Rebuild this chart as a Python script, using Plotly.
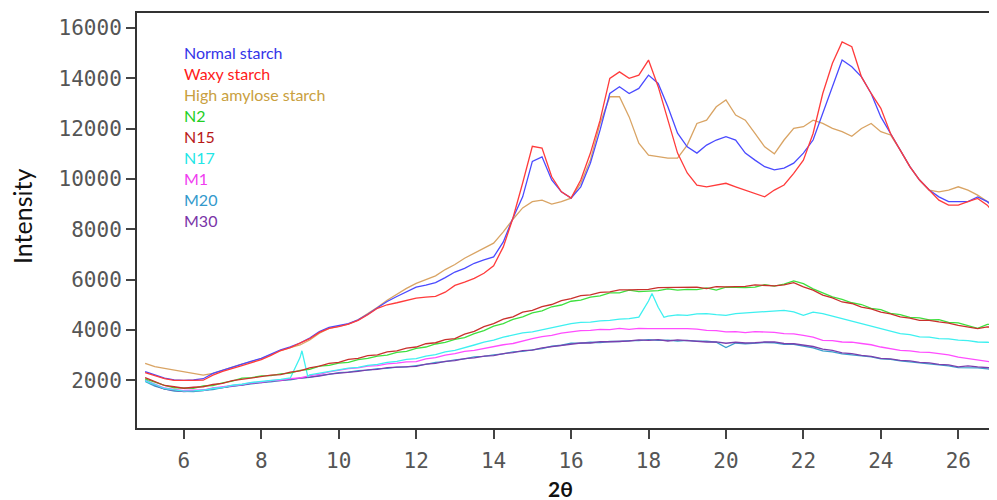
import plotly.graph_objects as go

two_theta = [5.00, 5.25, 5.50, 5.75, 6.00, 6.25, 6.50, 6.75, 7.00, 7.25, 7.50, 7.75,
             8.00, 8.25, 8.50, 8.75, 9.00, 9.25, 9.50, 9.75, 10.00, 10.25, 10.50, 10.75,
             11.00, 11.25, 11.50, 11.75, 12.00, 12.25, 12.50, 12.75, 13.00, 13.25, 13.50, 13.75,
             14.00, 14.25, 14.50, 14.75, 15.00, 15.25, 15.50, 15.75, 16.00, 16.25, 16.50, 16.75,
             17.00, 17.25, 17.50, 17.75, 18.00, 18.25, 18.50, 18.75, 19.00, 19.25, 19.50, 19.75,
             20.00, 20.25, 20.50, 20.75, 21.00, 21.25, 21.50, 21.75, 22.00, 22.25, 22.50, 22.75,
             23.00, 23.25, 23.50, 23.75, 24.00, 24.25, 24.50, 24.75, 25.00, 25.25, 25.50, 25.75,
             26.00, 26.25, 26.50, 26.75, 27.00]

normal_starch = [2340, 2200, 2080, 2010, 1990, 2010, 2060, 2270, 2400, 2530, 2640, 2760,
                 2870, 3040, 3210, 3330, 3480, 3680, 3930, 4100, 4160, 4250, 4400, 4620,
                 4880, 5130, 5330, 5500, 5700, 5780, 5880, 6080, 6300, 6450, 6650, 6780,
                 6900, 7500, 8450, 9290, 10700, 10880, 9960, 9490, 9240, 9690, 10630, 11950,
                 13400, 13670, 13400, 13600, 14130, 13800, 12870, 11820, 11280, 11030, 11350, 11550,
                 11680, 11550, 11030, 10750, 10490, 10360, 10430, 10630, 11030, 11550, 12610, 13670,
                 14730, 14460, 14060, 13400, 12470, 11810, 11150, 10490, 9960, 9560, 9290, 9100,
                 9100, 9100, 9290, 9100, 8760]

waxy_starch = [2300, 2180, 2060, 1990, 1980, 1990, 2000, 2200, 2350, 2480, 2580, 2700,
               2820, 2990, 3180, 3300, 3460, 3650, 3900, 4060, 4130, 4230, 4380, 4600,
               4860, 5000, 5080, 5180, 5260, 5300, 5330, 5500, 5770, 5900, 6050, 6250,
               6550, 7300, 8450, 9840, 11300, 11230, 10090, 9490, 9240, 9960, 11030, 12340,
               14000, 14260, 14000, 14130, 14730, 13670, 12340, 11030, 10240, 9760, 9690, 9760,
               9830, 9690, 9560, 9430, 9290, 9560, 9760, 10220, 10750, 11810, 13400, 14600,
               15450, 15260, 14060, 13400, 12810, 11810, 11150, 10490, 9960, 9560, 9160, 8960,
               8960, 9100, 9230, 8960, 8500]

high_amylose_starch = [2670, 2540, 2470, 2410, 2340, 2270, 2200, 2270, 2400, 2530, 2640, 2740,
                       2860, 3020, 3180, 3300, 3400, 3600, 3870, 4060, 4150, 4230, 4400, 4640,
                       4900, 5180, 5420, 5650, 5850, 6000, 6150, 6400, 6600, 6850, 7050, 7250,
                       7450, 7900, 8400, 8850, 9100, 9160, 9000, 9100, 9240, 9830, 10760, 12210,
                       13270, 13270, 12470, 11420, 10950, 10890, 10830, 10830, 11350, 12210, 12340, 12870,
                       13140, 12540, 12340, 11810, 11280, 11000, 11550, 12010, 12080, 12340, 12210, 12010,
                       11880, 11700, 12010, 12210, 11880, 11750, 11150, 10490, 9960, 9560, 9490, 9560,
                       9690, 9560, 9360, 9100, 8960]

n2 = [2050, 1910, 1790, 1700, 1700, 1680, 1770, 1790, 1890, 1960, 2080, 2100,
      2170, 2180, 2250, 2280, 2390, 2430, 2560, 2590, 2680, 2710, 2820, 2870,
      2960, 3000, 3110, 3150, 3270, 3320, 3440, 3500, 3620, 3690, 3850, 3970,
      4150, 4250, 4420, 4520, 4680, 4760, 4920, 4990, 5140, 5180, 5300, 5350,
      5470, 5470, 5580, 5520, 5540, 5560, 5630, 5580, 5610, 5600, 5670, 5580,
      5700, 5680, 5680, 5700, 5800, 5740, 5820, 5950, 5840, 5630, 5470, 5310,
      5210, 5080, 5010, 4860, 4810, 4660, 4610, 4500, 4480, 4400, 4410, 4300,
      4280, 4180, 4060, 4220, 4230]

n15 = [2100, 1960, 1790, 1740, 1680, 1720, 1740, 1830, 1870, 1980, 2030, 2110,
       2130, 2200, 2220, 2320, 2370, 2490, 2560, 2670, 2710, 2830, 2870, 2980,
       3010, 3130, 3170, 3280, 3320, 3450, 3490, 3610, 3650, 3830, 3940, 4130,
       4250, 4430, 4520, 4710, 4780, 4930, 5010, 5160, 5240, 5360, 5390, 5490,
       5510, 5590, 5590, 5610, 5610, 5680, 5690, 5710, 5710, 5700, 5640, 5720,
       5710, 5710, 5730, 5790, 5770, 5750, 5790, 5880, 5710, 5580, 5380, 5270,
       5110, 5050, 4910, 4840, 4710, 4640, 4520, 4470, 4380, 4380, 4320, 4270,
       4180, 4100, 4050, 4120, 4100]

n17 = [1980, 1810, 1670, 1620, 1570, 1580, 1600, 1670, 1710, 1800, 1840, 1910,
       1940, 2000, 2030, 2090, 2900, 2210, 2280, 2360, 2410, 2480, 2510, 2590,
       2630, 2710, 2750, 2830, 2860, 2960, 3020, 3130, 3190, 3310, 3400, 3510,
       3590, 3710, 3790, 3880, 3920, 4010, 4080, 4190, 4250, 4300, 4310, 4360,
       4380, 4430, 4450, 4510, 5150, 4900, 4550, 4600, 4580, 4640, 4650, 4610,
       4580, 4650, 4680, 4710, 4710, 4760, 4780, 4720, 4580, 4710, 4650, 4550,
       4450, 4370, 4250, 4160, 4050, 3970, 3850, 3810, 3720, 3710, 3650, 3640,
       3590, 3570, 3520, 3510, 3470]
# sharp single-point peaks of N17 between grid positions
n17_peak_theta = [9.05, 9.20, 18.09, 18.40]
n17_peak_values = [3170, 2150, 5450, 4500]

m1 = [2000, 1830, 1690, 1640, 1590, 1600, 1610, 1690, 1730, 1800, 1830, 1900,
      1920, 1980, 2000, 2060, 2090, 2180, 2230, 2330, 2390, 2460, 2490, 2560,
      2580, 2650, 2680, 2730, 2740, 2850, 2900, 3000, 3060, 3150, 3190, 3270,
      3320, 3410, 3460, 3570, 3650, 3730, 3780, 3870, 3920, 3970, 3980, 4020,
      4010, 4060, 4020, 4060, 4050, 4050, 4040, 4070, 4050, 4030, 3980, 3970,
      3920, 3930, 3890, 3930, 3920, 3900, 3850, 3840, 3780, 3710, 3580, 3570,
      3520, 3510, 3460, 3410, 3320, 3270, 3190, 3170, 3120, 3110, 3060, 3010,
      2920, 2870, 2790, 2750, 2690]

m20 = [1950, 1760, 1660, 1570, 1560, 1550, 1600, 1630, 1710, 1750, 1820, 1850,
       1910, 1930, 1990, 2010, 2080, 2110, 2190, 2230, 2300, 2320, 2380, 2400,
       2460, 2470, 2520, 2530, 2580, 2630, 2710, 2740, 2810, 2850, 2930, 2950,
       3010, 3050, 3130, 3150, 3210, 3260, 3350, 3390, 3470, 3470, 3510, 3500,
       3540, 3540, 3570, 3570, 3610, 3580, 3590, 3560, 3580, 3550, 3550, 3510,
       3300, 3480, 3450, 3480, 3500, 3490, 3430, 3430, 3350, 3290, 3170, 3130,
       3050, 3020, 2970, 2930, 2850, 2830, 2770, 2730, 2670, 2660, 2600, 2570,
       2500, 2500, 2490, 2450, 2400]

m30 = [2020, 1800, 1650, 1600, 1550, 1580, 1590, 1670, 1710, 1780, 1810, 1880,
       1910, 1970, 1980, 2040, 2070, 2120, 2160, 2240, 2270, 2330, 2350, 2410,
       2430, 2500, 2510, 2550, 2550, 2640, 2670, 2750, 2780, 2860, 2890, 2960,
       2980, 3060, 3100, 3180, 3200, 3290, 3330, 3400, 3440, 3480, 3480, 3530,
       3530, 3540, 3560, 3600, 3580, 3610, 3560, 3600, 3570, 3560, 3520, 3520,
       3470, 3510, 3480, 3490, 3520, 3520, 3460, 3450, 3390, 3340, 3240, 3190,
       3090, 3060, 2990, 2950, 2870, 2850, 2790, 2770, 2710, 2690, 2630, 2610,
       2530, 2570, 2530, 2510, 2470]

series_names = ["Normal starch", "Waxy starch", "High amylose starch", "N2", "N15",
                "N17", "M1", "M20", "M30"]
line_colors = ["#4a4aff", "#ff3b3b", "#d9a464", "#3ee03e", "#c9302c",
               "#3ef0f0", "#ff4dff", "#3b9fcc", "#7a3fae"]
label_colors = ["#3434e8", "#ff1a1a", "#c9a040", "#22d022", "#b81818",
                "#22e6e6", "#f03cf0", "#3399cc", "#7a34a8"]
y_ticks = [2000, 4000, 6000, 8000, 10000, 12000, 14000, 16000]
y_tick_text = ["2000", "4000", "6000", "8000", "10000", "12000", "14000", "16000"]
x_ticks = [6, 8, 10, 12, 14, 16, 18, 20, 22, 24, 26]
x_tick_text = ["6", "8", "10", "12", "14", "16", "18", "20", "22", "24", "26"]

# merge N17 sharp peaks into its own x/y arrays
n17_pairs = sorted(list(zip(two_theta, n17)) + list(zip(n17_peak_theta, n17_peak_values)))
n17_x = [p[0] for p in n17_pairs]
n17_y = [p[1] for p in n17_pairs]

data = {
    "Normal starch": (two_theta, normal_starch),
    "Waxy starch": (two_theta, waxy_starch),
    "High amylose starch": (two_theta, high_amylose_starch),
    "N2": (two_theta, n2),
    "N15": (two_theta, n15),
    "N17": (n17_x, n17_y),
    "M1": (two_theta, m1),
    "M20": (two_theta, m20),
    "M30": (two_theta, m30),
}

# the page body has an 8px margin; size the figure so the plot lands where the reference has it
OFF = 8
W, H = 997 - OFF, 500 - OFF
ml, mr, mt, mb = 137 - OFF, 0, 13 - OFF, 72
pw, ph = W - ml - mr, H - mt - mb


def px_x(p):
    return (p - OFF - ml) / pw


def px_y(p):
    return 1 - (p - OFF - mt) / ph


fig = go.Figure()
draw_order = ["M20", "M30", "M1", "N17", "N2", "N15", "High amylose starch", "Normal starch", "Waxy starch"]
for name in draw_order:
    i = series_names.index(name)
    xs, ys = data[name]
    fig.add_trace(go.Scatter(x=xs, y=ys, mode="lines", name=name,
                             line=dict(color=line_colors[i], width=1.3),
                             showlegend=False, hoverinfo="skip"))

# text-only legend
for i, name in enumerate(series_names):
    fig.add_annotation(x=px_x(182), y=px_y(52 + 21 * i), xref="paper", yref="paper", text=name,
                       showarrow=False, xanchor="left", yanchor="middle",
                       font=dict(family="Lato, sans-serif", size=16, color=label_colors[i]))

# axis titles
fig.add_annotation(x=px_x(22), y=px_y(217), xref="paper", yref="paper", text="Intensity",
                   showarrow=False, textangle=-90, xanchor="center", yanchor="middle",
                   font=dict(family="Lato, sans-serif", size=25, color="#111"))
fig.add_annotation(x=px_x(560), y=px_y(488), xref="paper", yref="paper", text="<b>2θ</b>",
                   showarrow=False, xanchor="center", yanchor="middle",
                   font=dict(family="Lato, sans-serif", size=21, color="#111"))

fig.update_layout(
    width=W, height=H,
    margin=dict(l=ml, r=mr, t=mt, b=mb, autoexpand=False),
    plot_bgcolor="white", paper_bgcolor="white",
    xaxis=dict(range=[4.79, 27.0], tickvals=x_ticks, ticktext=x_tick_text, ticks="outside", ticklen=9,
               tickwidth=1.5, tickcolor="#444", showline=True, linecolor="#333",
               linewidth=2, mirror=True, showgrid=False, zeroline=False, automargin=False,
               ticklabelstandoff=4,
               tickfont=dict(family="DejaVu Sans Mono", size=21, color="#555")),
    yaxis=dict(range=[100, 16600], tickvals=y_ticks, ticktext=y_tick_text, ticks="outside", ticklen=9,
               tickwidth=1.5, tickcolor="#444", showline=True, linecolor="#333",
               linewidth=2, mirror=False, showgrid=False, zeroline=False, automargin=False,
               tickfont=dict(family="DejaVu Sans Mono", size=21, color="#555")),
)

fig.write_html("out.html")
